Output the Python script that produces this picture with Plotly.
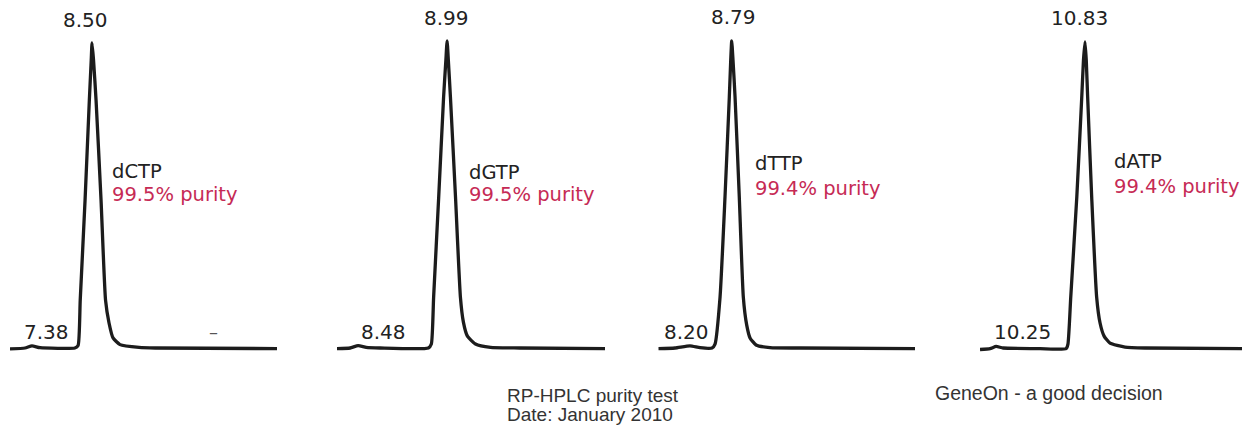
import plotly.graph_objects as go

# ---------------- data ----------------
compounds = ["dCTP", "dGTP", "dTTP", "dATP"]
purity_pct = [99.5, 99.5, 99.4, 99.4]
main_rt = [8.50, 8.99, 8.79, 10.83]      # main peak retention time (min)
minor_rt = [7.38, 8.48, 8.20, 10.25]     # minor impurity peak retention time (min)

# chromatogram traces: retention time (min) / signal (rel. units)
time_dctp = [6.97, 7.25, 7.38, 7.53, 8.18, 8.24, 8.28, 8.37, 8.45, 8.485, 8.50,
             8.528, 8.575, 8.668, 8.752, 8.817, 8.892, 9.022, 9.377, 9.68, 11.95]
signal_dctp = [-0.3, 0.0, 0.7, 0.1, 0.0, 0.8, 15.7, 48.5, 81.3, 94.4, 100.0,
               94.4, 81.3, 48.5, 15.7, 8.2, 3.3, 1.1, 0.2, 0.0, -0.2]

time_dgtp = [8.361, 8.436, 8.482, 8.528, 8.608, 8.883, 8.900, 8.913, 8.942, 8.970, 8.983,
             8.990, 8.997, 9.009, 9.038, 9.066, 9.083, 9.106, 9.152, 9.238, 9.405, 9.892]
signal_dgtp = [-0.2, 0.0, 0.8, 0.2, 0.0, 0.0, 1.3, 16.7, 49.5, 82.3, 94.4,
               100.7, 94.4, 82.3, 49.5, 16.7, 8.5, 3.9, 1.3, 0.2, 0.0, -0.2]

time_dttp = [7.752, 7.988, 8.200, 8.342, 8.511, 8.554, 8.625, 8.695, 8.756, 8.776, 8.790,
             8.808, 8.837, 8.897, 8.954, 9.002, 9.049, 9.134, 9.332, 9.756, 11.381]
signal_dttp = [-0.2, 0.0, 0.7, 0.1, 0.0, 1.3, 16.7, 49.5, 82.3, 94.4, 100.7,
               94.4, 82.3, 49.5, 16.7, 7.5, 3.3, 1.0, 0.1, 0.0, -0.2]

time_datp = [10.153, 10.218, 10.257, 10.302, 10.540, 10.708, 10.720, 10.738, 10.777, 10.809, 10.820,
             10.830, 10.838, 10.847, 10.873, 10.905, 10.927, 10.953, 10.991, 11.088, 11.217, 11.842]
signal_datp = [-0.5, -0.2, 0.5, 0.0, -0.2, -0.2, 1.3, 16.7, 49.5, 82.3, 94.4,
               100.4, 94.4, 82.3, 49.5, 16.7, 8.2, 3.9, 1.6, 0.3, 0.0, -0.2]

times = [time_dctp, time_dgtp, time_dttp, time_datp]
signals = [signal_dctp, signal_dgtp, signal_dttp, signal_datp]

footer_left = ["RP-HPLC purity test", "Date: January 2010"]
footer_right = "GeneOn - a good decision"

# ---------------- layout / styling ----------------
W, H = 1242, 425
panel_px = [(10, 277), (337, 605), (658.3, 915), (980, 1242)]
x_ranges = [(6.97, 11.95), (8.361, 9.892), (7.752, 11.381), (10.153, 11.842)]
y_range = (-25.246, 114.098)

peak_xshift = [-6.5, -1, 2, -6]
peak_yshift = [23, 23, 24, 24]
minor_xshift = [15, 26, -3, 27]
minor_yshift = 16
name_px = [(110, 171), (467, 173), (753, 163), (1112, 162)]
purity_px = [(110, 195), (467, 195), (753, 188), (1112, 186)]

LINE = "#1c1c1c"
TXT = "#222222"
RED = "#c62a55"
PEAK_FONT = "DejaVu Sans"

fig = go.Figure()
layout_axes = {}
annotations = []
for i in range(4):
    xa = "x" if i == 0 else f"x{i + 1}"
    xkey = "xaxis" if i == 0 else f"xaxis{i + 1}"
    fig.add_trace(go.Scatter(
        x=times[i], y=signals[i], mode="lines", xaxis=xa, yaxis="y",
        line=dict(color=LINE, width=3.3, shape="spline", smoothing=0.5),
        hoverinfo="skip", showlegend=False,
    ))
    l, r = panel_px[i]
    layout_axes[xkey] = dict(domain=[l / W, r / W], range=list(x_ranges[i]),
                             visible=False, fixedrange=True)
    apex = max(signals[i])
    annotations.append(dict(
        xref=xa, yref="y", x=main_rt[i], y=apex, text=f"{main_rt[i]:.2f}",
        showarrow=False, xanchor="center", yanchor="middle",
        xshift=peak_xshift[i], yshift=peak_yshift[i],
        font=dict(family=PEAK_FONT, size=20, color=TXT)))
    annotations.append(dict(
        xref=xa, yref="y", x=minor_rt[i], y=0, text=f"{minor_rt[i]:.2f}",
        showarrow=False, xanchor="center", yanchor="middle",
        xshift=minor_xshift[i], yshift=minor_yshift,
        font=dict(family=PEAK_FONT, size=20, color=TXT)))
    nx, ny = name_px[i]
    annotations.append(dict(
        xref="paper", yref="paper", x=nx / W, y=1 - ny / H, text=compounds[i],
        showarrow=False, xanchor="left", yanchor="middle",
        font=dict(family=PEAK_FONT, size=19.5, color=TXT)))
    px_, py_ = purity_px[i]
    annotations.append(dict(
        xref="paper", yref="paper", x=px_ / W, y=1 - py_ / H,
        text=f"{purity_pct[i]:.1f}% purity",
        showarrow=False, xanchor="left", yanchor="middle",
        font=dict(family=PEAK_FONT, size=19.5, color=RED)))

# small dash mark in first panel
annotations.append(dict(xref="paper", yref="paper", x=214 / W, y=1 - 331 / H, text="–",
                        showarrow=False, xanchor="center", yanchor="middle",
                        font=dict(family=PEAK_FONT, size=18, color="#555")))

# footer texts
for txt, py in zip(footer_left, [395, 414]):
    annotations.append(dict(xref="paper", yref="paper", x=505 / W, y=1 - py / H, text=txt,
                            showarrow=False, xanchor="left", yanchor="middle",
                            font=dict(family="Liberation Sans", size=19, color="#333")))
annotations.append(dict(xref="paper", yref="paper", x=933 / W, y=1 - 393 / H, text=footer_right,
                        showarrow=False, xanchor="left", yanchor="middle",
                        font=dict(family="Liberation Sans", size=19.5, color="#333")))

fig.update_layout(
    width=W, height=H,
    margin=dict(l=0, r=0, t=0, b=0),
    paper_bgcolor="white", plot_bgcolor="white",
    yaxis=dict(domain=[0, 1], range=list(y_range), visible=False, fixedrange=True, anchor="x"),
    annotations=annotations,
    showlegend=False,
    **layout_axes,
)

fig.write_html(
    "out.html",
    config={"displayModeBar": False, "staticPlot": True},
    post_script="document.body.style.margin='0';document.body.style.overflow='hidden';",
)
